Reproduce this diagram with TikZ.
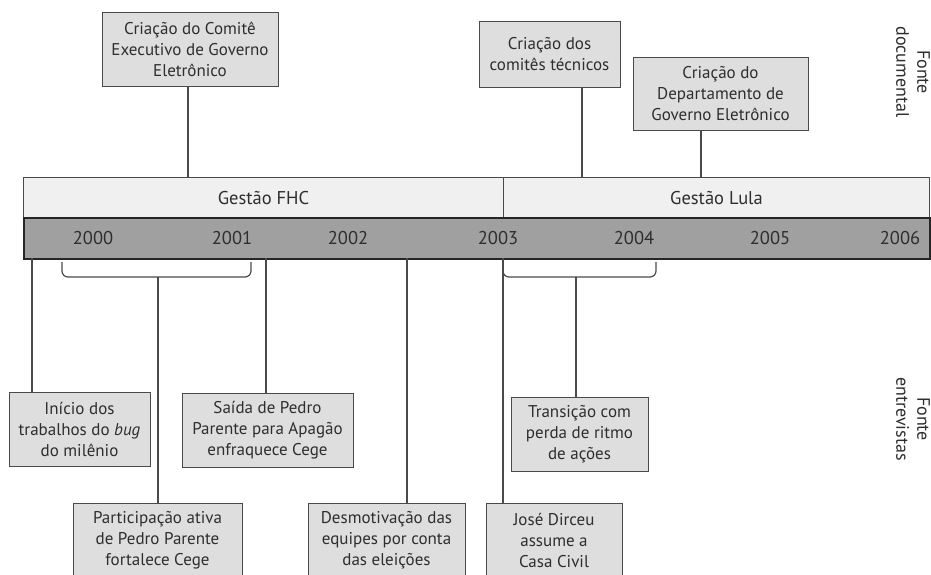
\documentclass[tikz,border=0pt]{standalone}
\usepackage{fontspec}
\setmainfont{PT Sans}
\usepackage{xcolor}
\definecolor{boxgray}{HTML}{DEDEDE}
\definecolor{barlight}{HTML}{F0F0F0}
\definecolor{bardark}{HTML}{A0A0A0}
\definecolor{linegray}{HTML}{4A4A4A}
\definecolor{textdark}{HTML}{2E2E2E}

\tikzset{
  evbox/.style={draw=linegray, fill=boxgray, line width=1pt, align=center, inner sep=0pt,
    font=\fontsize{17}{21}\selectfont, text=textdark},
  link/.style={linegray, line width=1.2pt},
  yearlabel/.style={font=\fontsize{18.5}{20}\selectfont, text=textdark},
  sidelabel/.style={rotate=-90, align=center, font=\fontsize{18}{21}\selectfont, text=textdark},
}

\begin{document}
\begin{tikzpicture}[x=1pt,y=-1pt]
\clip (0,0) rectangle (931,574);
\fill[white] (0,0) rectangle (931,574);

% ---------- Gestoes ----------
\node[draw=linegray, fill=barlight, line width=1pt, minimum width=480pt, minimum height=40pt,
  inner sep=0, anchor=north west, yearlabel] (fhc) at (23,177) {Gestão FHC};
\node[draw=linegray, fill=barlight, line width=1pt, minimum width=426pt, minimum height=40pt,
  inner sep=0, anchor=north west, yearlabel] (lula) at (503,177) {Gestão Lula};

% ---------- Anos ----------
\node[draw=black!85, fill=bardark, line width=1.6pt, minimum width=906pt, minimum height=41pt,
  inner sep=0, anchor=north west] (anos) at (23,217) {};
\node[yearlabel] (a2000) at (93,238) {2000};
\node[yearlabel] (a2001) at (232,238) {2001};
\node[yearlabel] (a2002) at (348,238) {2002};
\node[yearlabel] (a2003) at (498,238) {2003};
\node[yearlabel] (a2004) at (634,238) {2004};
\node[yearlabel] (a2005) at (770,238) {2005};
\node[yearlabel] (a2006) at (900,238) {2006};

% ---------- Fonte documental ----------
\node[evbox, minimum width=176pt, minimum height=74pt] (comite) at (190,49)
  {Criação do Comitê\\Executivo de Governo\\Eletrônico};
\node[evbox, minimum width=141pt, minimum height=66pt] (tecnicos) at (549.5,54)
  {Criação dos\\comitês técnicos};
\node[evbox, minimum width=175pt, minimum height=73pt] (depto) at (720.5,93.5)
  {Criação do\\Departamento de\\Governo Eletrônico};

\coordinate (c1) at (188,177);
\coordinate (c2) at (582,177);
\coordinate (c3) at (701,177);
\draw[link] (c1) -- (c1 |- comite.south);
\draw[link] (c2) -- (c2 |- tecnicos.south);
\draw[link] (c3) -- (c3 |- depto.south);

% ---------- Fonte entrevistas ----------
\node[evbox, minimum width=141pt, minimum height=74pt] (inicio) at (79.5,429)
  {Início dos\\trabalhos do \textit{bug}\\do milênio};
\node[evbox, minimum width=171pt, minimum height=74pt] (saida) at (267.5,430)
  {Saída de Pedro\\Parente para Apagão\\enfraquece Cege};
\node[evbox, minimum width=137pt, minimum height=74pt] (transicao) at (579.5,434)
  {Transição com\\perda de ritmo\\de ações};
\node[evbox, minimum width=169pt, minimum height=74pt] (partic) at (157.5,540)
  {Participação ativa\\de Pedro Parente\\fortalece Cege};
\node[evbox, minimum width=157pt, minimum height=74pt] (desmot) at (386.5,540)
  {Desmotivação das\\equipes por conta\\das eleições};
\node[evbox, minimum width=136pt, minimum height=74pt] (dirceu) at (554,540)
  {José Dirceu\\assume a\\Casa Civil};

% brackets
\draw[link, rounded corners=6pt] (62,262) -- (62,277) -- (251,277) -- (251,262);
\draw[link, rounded corners=6pt] (503,262) -- (503,277) -- (656,277) -- (656,262);
\coordinate (s1) at (158,277);
\coordinate (s2) at (576,277);
\draw[link] (s1) -- (s1 |- partic.north);
\draw[link] (s2) -- (s2 |- transicao.north);

\coordinate (e1) at (32,258);
\coordinate (e2) at (266,258);
\coordinate (e3) at (407,258);
\coordinate (e4) at (503,258);
\draw[link] (e1) -- (e1 |- inicio.north);
\draw[link] (e2) -- (e2 |- saida.north);
\draw[link] (e3) -- (e3 |- desmot.north);
\draw[link] (e4) -- (e4 |- dirceu.north);

% ---------- Rotulos laterais ----------
\node[sidelabel] (fdoc) at (913,72) {Fonte\\documental};
\node[sidelabel] (fent) at (913,419) {Fonte\\entrevistas};

\end{tikzpicture}
\end{document}
